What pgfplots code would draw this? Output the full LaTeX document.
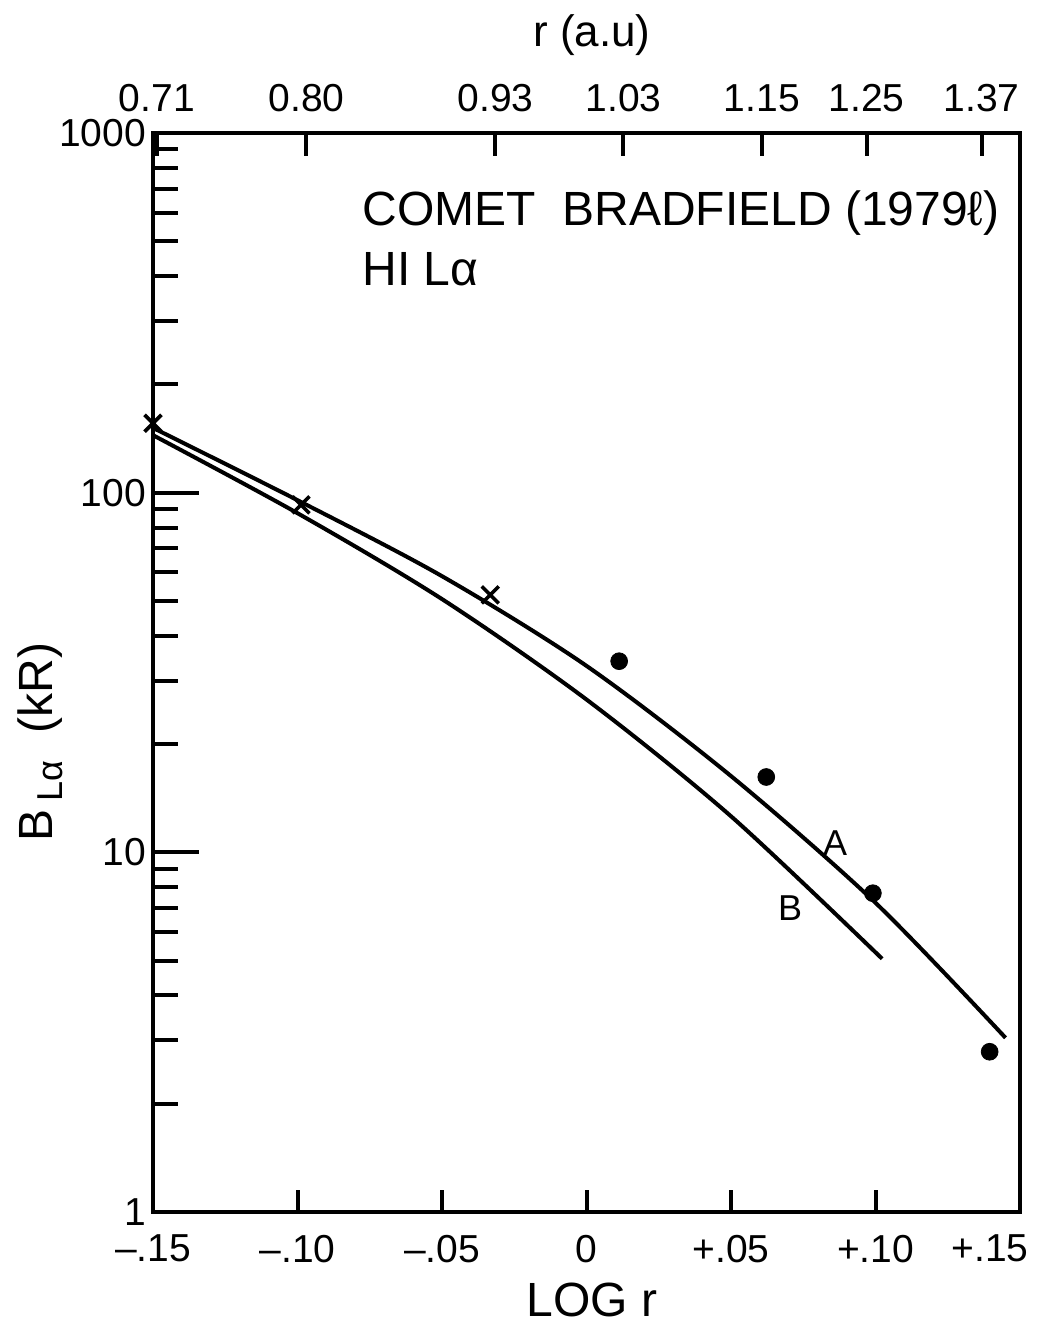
\documentclass[border=0pt]{standalone}
\usepackage{fontspec}
\setmainfont{Liberation Sans}
\usepackage{pgfplots}
\pgfplotsset{compat=1.18}
\newcommand{\tickfont}{\fontsize{19.5}{21}\selectfont}
\begin{document}
\begin{tikzpicture}[x=1pt,y=1pt]
\useasboundingbox (0,0) rectangle (520,-662);
% main axis: y ticks and data
\begin{axis}[
  at={(76.5pt,-606pt)}, anchor=south west,
  scale only axis, width=433.5pt, height=539.5pt,
  xmin=-0.15, xmax=0.15, ymode=log, ymin=1, ymax=1000,
  axis line style={line width=2pt},
  xtick=\empty,
  ytick={1,10,100,1000}, yticklabels={1,10,100,1000},
  minor ytick={2,3,4,5,6,7,8,9,20,30,40,50,60,70,80,90,200,300,400,500,600,700,800,900},
  ytick pos=left,
  major tick length=23pt, minor tick length=12.5pt,
  every tick/.style={line width=2pt,black},
  yticklabel style={font=\tickfont},
  clip=false,
]
\addplot[black, line width=2pt, smooth] coordinates {
(-0.15,151.4) (-0.10,95.3) (-0.05,58.6) (0,33.0) (0.05,16.3) (0.10,7.24) (0.145,3.05)};
\addplot[black, line width=2pt, smooth] coordinates {
(-0.15,144.5) (-0.10,87.7) (-0.05,50.6) (0,26.6) (0.05,12.6) (0.1023,5.06)};
\addplot[only marks, mark=x, mark size=6pt, line width=1.8pt, black] coordinates {
(-0.15,156) (-0.0988,92.5) (-0.0333,52)};
\addplot[only marks, mark=*, mark size=4.2pt, black] coordinates {
(0.0113,34) (0.0622,16.2) (0.0991,7.7) (0.1395,2.79)};
\end{axis}
% bottom x ticks
\begin{axis}[
  at={(76.5pt,-606pt)}, anchor=south west,
  scale only axis, width=433.5pt, height=539.5pt,
  xmin=-0.15, xmax=0.15, ymin=0, ymax=1,
  axis line style={line width=2pt},
  ytick=\empty,
  xtick={-0.15,-0.1,-0.05,0,0.05,0.1,0.15},
  xticklabels={–.15,–.10,–.05,0,+.05,+.10,{+.15\hspace*{30pt}}},
  xtick pos=lower,
  major tick length=11pt,
  every tick/.style={line width=2pt,black},
  xticklabel style={font=\tickfont, yshift=-8pt},
]
\end{axis}
% top x ticks: r (a.u.)
\begin{axis}[
  at={(76.5pt,-606pt)}, anchor=south west,
  scale only axis, width=433.5pt, height=539.5pt,
  xmin=-0.15, xmax=0.15, ymin=0, ymax=1,
  axis line style={line width=2pt},
  ytick=\empty,
  xtick={-0.1487,-0.0969,-0.0315,0.0128,0.0607,0.0969,0.1367},
  xticklabels={0.71,0.80,0.93,1.03,1.15,1.25,1.37},
  xtick pos=upper, xticklabel pos=upper,
  major tick length=11.5pt,
  every tick/.style={line width=2pt,black},
  xticklabel style={font=\tickfont, yshift=7pt},
]
\end{axis}
% texts
\node[anchor=base west, font=\fontsize{24}{26}\selectfont, inner sep=0pt] at (181,-112.5) {COMET\ \ BRADFIELD (1979ℓ)};
\node[anchor=base west, font=\fontsize{24}{26}\selectfont, inner sep=0pt] at (181,-142.5) {HI Lα};
\node[font=\fontsize{22}{24}\selectfont] at (296,-17.5) {r (a.u)};
\node[font=\fontsize{24}{26}\selectfont] at (296,-650) {LOG r};
\node[rotate=90, font=\fontsize{24}{26}\selectfont] at (20,-371) {B\,\raisebox{-0.4ex}{\fontsize{18}{20}\selectfont Lα}\ \ (kR)};
\node[font=\fontsize{18}{20}\selectfont] at (417.5,-421.5) {A};
\node[font=\fontsize{18}{20}\selectfont] at (395,-454) {B};
\end{tikzpicture}
\end{document}
